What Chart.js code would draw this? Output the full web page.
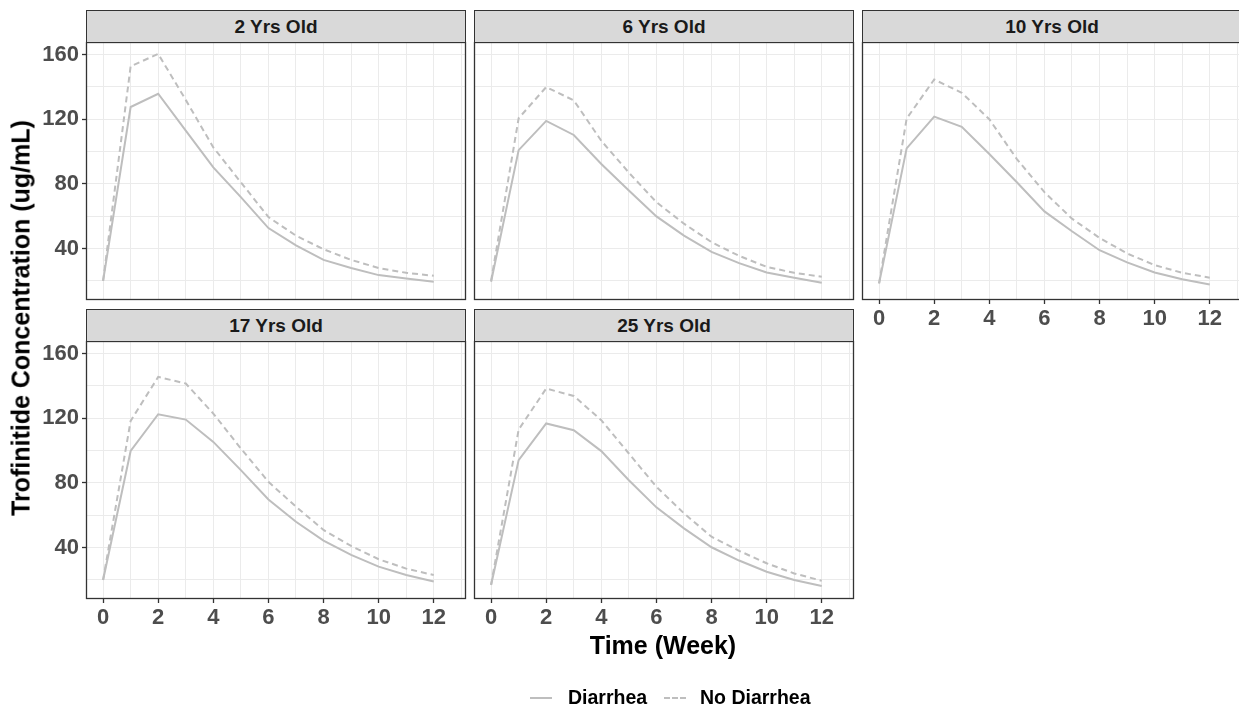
<!DOCTYPE html>
<html>
<head>
<meta charset="utf-8">
<script src="https://cdn.jsdelivr.net/npm/chart.js@4"></script>
<style>
	body { margin:0; width:1239px; height:706px; overflow:hidden; background:#fff; font-family:'Liberation Sans', Arial, sans-serif; position:relative; }
	canvas { position:absolute; }
	.strip { position:absolute; box-sizing:border-box; background:#d9d9d9; border:1px solid #333; font-weight:bold; font-size:19px; color:#1a1a1a; display:flex; align-items:center; justify-content:center; }
	.ttl { position:absolute; font-weight:bold; font-size:25px; color:#000; white-space:nowrap; }
	.leg { position:absolute; font-weight:bold; font-size:19.5px; color:#000; white-space:nowrap; }
</style>
</head>
<body>
<script>
const weeks = [0, 1, 2, 3, 4, 5, 6, 7, 8, 9, 10, 11, 12]
const panelNames = ['2 Yrs Old', '6 Yrs Old', '10 Yrs Old', '17 Yrs Old', '25 Yrs Old']
const xTicks = [0, 1, 2, 3, 4, 5, 6, 7, 8, 9, 10, 11, 12, 13]
const yTicks = [20, 40, 60, 80, 100, 120, 140, 160]

// concentration per week, ug/mL
const diarrhea2 = [20, 127.6, 135.8, 113, 90.2, 71.8, 52.7, 42, 33, 28, 23.6, 21.5, 19.5]
const noDiarrhea2 = [20, 152.8, 160.4, 132, 102.6, 81, 59.5, 48, 39.6, 33, 28, 25, 23.2]
const diarrhea6 = [19.5, 100.9, 119, 110.3, 92.3, 75.9, 59.9, 48, 38, 31, 25.2, 22, 18.9]
const noDiarrhea6 = [20, 120.6, 139.9, 131.7, 106.7, 87, 68.7, 55.4, 44, 35.5, 28.7, 25, 22.6]
const diarrhea10 = [18.5, 102, 121.6, 115.3, 98.5, 81, 63, 50.7, 39, 31.5, 25.2, 21, 17.8]
const noDiarrhea10 = [18.5, 120.4, 144.6, 136.4, 120, 95.4, 74.9, 58.5, 46.6, 37, 29.8, 25, 22]
const diarrhea17 = [20, 99.8, 122.5, 119.2, 105.4, 87.9, 69.8, 56, 44.3, 35.5, 28.2, 23, 19]
const noDiarrhea17 = [20, 118.4, 145.6, 141.5, 122.9, 101.3, 80.7, 65.3, 50.9, 41, 32.8, 27, 23]
const diarrhea25 = [16.9, 94.1, 116.8, 112.6, 99.7, 81.7, 64.9, 51.9, 40.2, 32, 25.1, 20, 16.3]
const noDiarrhea25 = [17, 113, 138.4, 133.8, 118.8, 98.2, 77.6, 61.2, 46.7, 38, 30.3, 24, 19.5]

const series = [
	[diarrhea2, noDiarrhea2],
	[diarrhea6, noDiarrhea6],
	[diarrhea10, noDiarrhea10],
	[diarrhea17, noDiarrhea17],
	[diarrhea25, noDiarrhea25],
]

// panel layout: left, top of plot area, which axes get labels
const panels = [
	{x:86, y:42, yl:true, xl:false},
	{x:474, y:42, yl:false, xl:false},
	{x:862, y:42, yl:false, xl:true},
	{x:86, y:341, yl:true, xl:true},
	{x:474, y:341, yl:false, xl:true},
]
const PW = 380, PH = 258, YW = 60, TOP = 20, XH = 40, RP = 6

const el = (tag, parent, cls, text) => {
	const e = document.createElement(tag)
	if (cls) e.className = cls
	if (text) e.textContent = text
	parent.appendChild(e)
	return e
}

const frame = {
	id: 'frame',
	afterDraw: c => {
		const a = c.chartArea, ctx = c.ctx
		ctx.save()
		ctx.strokeStyle = '#333'
		ctx.lineWidth = 1.3
		ctx.strokeRect(a.left + 0.5, a.top + 0.5, a.right - a.left - 1, a.bottom - a.top - 1)
		ctx.restore()
	}
}

const tickFont = { family:"'Liberation Sans', Arial, sans-serif", size:22, weight:'bold' }

panels.forEach((p, i) => {
	const cv = el('canvas', document.body)
	cv.width = YW + PW + RP
	cv.height = TOP + PH + XH
	cv.style.left = (p.x - YW) + 'px'
	cv.style.top = (p.y - TOP) + 'px'

	const s = el('div', document.body, 'strip', panelNames[i])
	s.style.left = p.x + 'px'
	s.style.top = (p.y - 32) + 'px'
	s.style.width = PW + 'px'
	s.style.height = '33px'

	const line = (label, data, dash) => ({
		label: label,
		data: data.map((v, k) => ({x: weeks[k], y: v})),
		borderColor: '#bebebe',
		borderWidth: 2,
		borderDash: dash,
		pointRadius: 0,
		tension: 0,
		fill: false,
	})

	new Chart(cv, {
		type: 'line',
		data: { datasets: [line('Diarrhea', series[i][0], []), line('No Diarrhea', series[i][1], [6, 4])] },
		plugins: [frame],
		options: {
			responsive: false,
			animation: false,
			devicePixelRatio: 1,
			layout: { padding: {top:TOP, right:RP, left:0, bottom:0} },
			plugins: { legend: {display:false}, tooltip: {enabled:false} },
			scales: {
				x: {
					type: 'linear', min: -0.62, max: 13.17,
					afterBuildTicks: sc => { sc.ticks = xTicks.map(v => ({value:v})) },
					afterFit: sc => { sc.height = XH },
					border: { display:false },
					grid: {
						color: '#ebebeb', lineWidth: 1, tickLength: 4, tickWidth: 1.3,
						tickColor: c => (p.xl && c.tick && c.tick.value % 2 === 0) ? '#333' : 'rgba(0,0,0,0)'
					},
					ticks: {
						display: p.xl, autoSkip: false, maxRotation: 0, padding: 2,
						color: '#4d4d4d', font: tickFont,
						callback: v => v % 2 === 0 ? v : ''
					}
				},
				y: {
					type: 'linear', min: 8.2, max: 167.8,
					afterBuildTicks: sc => { sc.ticks = yTicks.map(v => ({value:v})) },
					afterFit: sc => { sc.width = YW },
					border: { display:false },
					grid: {
						color: '#ebebeb', lineWidth: 1, tickLength: 4, tickWidth: 1.3,
						tickColor: c => (p.yl && c.tick && c.tick.value % 40 === 0) ? '#333' : 'rgba(0,0,0,0)'
					},
					ticks: {
						display: p.yl, autoSkip: false, padding: 3,
						color: '#4d4d4d', font: tickFont,
						callback: v => v % 40 === 0 ? v : ''
					}
				}
			}
		}
	})
})

// axis titles
const yt = el('div', document.body, 'ttl', 'Trofinitide Concentration (ug/mL)')
yt.style.left = '21px'
yt.style.top = '318px'
yt.style.transform = 'translate(-50%, -50%) rotate(-90deg)'

const xt = el('div', document.body, 'ttl', 'Time (Week)')
xt.style.left = '663px'
xt.style.top = '645px'
xt.style.transform = 'translate(-50%, -50%)'

// legend
const sample = (x, dashed) => {
	const d = el('div', document.body)
	d.style.cssText = 'position:absolute; left:' + x + 'px; top:697px; width:22px; height:0; border-top:2px ' + (dashed ? 'dashed' : 'solid') + ' #bebebe;'
}
sample(530, false)
sample(664, true)
const l1 = el('div', document.body, 'leg', 'Diarrhea')
l1.style.left = '568px'; l1.style.top = '686px'
const l2 = el('div', document.body, 'leg', 'No Diarrhea')
l2.style.left = '700px'; l2.style.top = '686px'
</script>
</body>
</html>
